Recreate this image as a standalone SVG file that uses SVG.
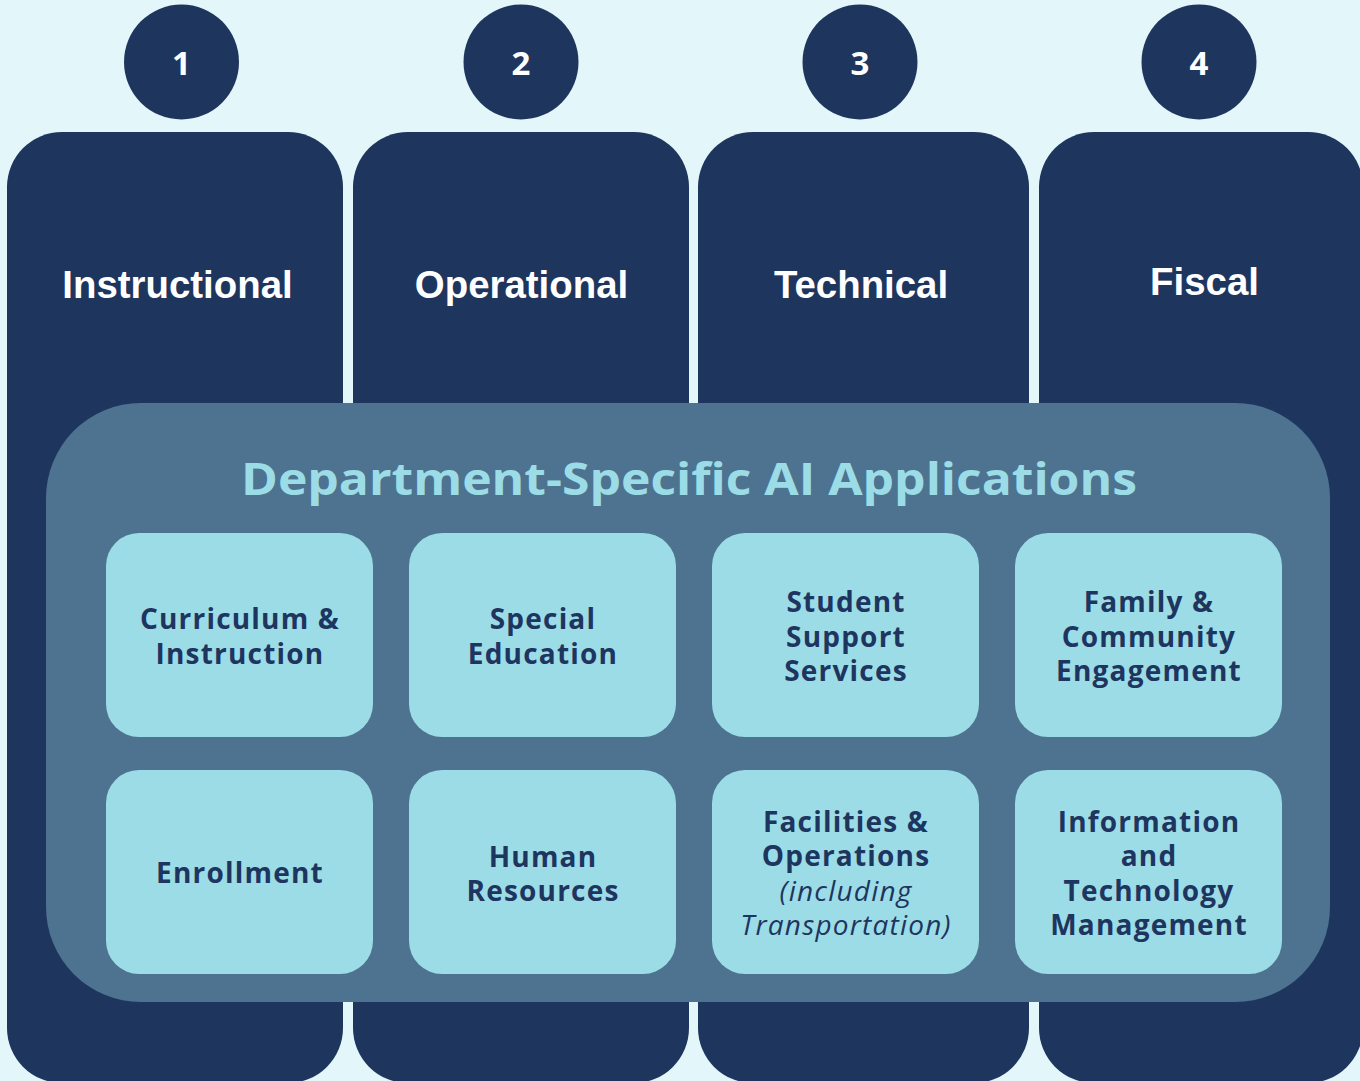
<svg xmlns="http://www.w3.org/2000/svg" width="1360" height="1081" viewBox="0 0 1360 1081">
<style>
.col{fill:#1E365E}
.num{fill:#1E365E}
.numt{font-family:"Open Sans","DejaVu Sans",sans-serif;font-weight:700;font-size:33px;fill:#FFFFFF;text-anchor:middle}
.colt{font-family:"Liberation Sans",Arial,sans-serif;font-weight:700;font-size:38.4px;fill:#FFFFFF;text-anchor:middle}
.panel{fill:#4D7390}
.ptitle{font-family:"Open Sans","DejaVu Sans",sans-serif;font-weight:700;font-size:45px;fill:#9CDCE6;text-anchor:middle}
.card{fill:#9CDCE6}
.ct{font-family:"Open Sans","DejaVu Sans",sans-serif;font-weight:700;font-size:28px;letter-spacing:1.2px;fill:#1E3560;text-anchor:middle}
.it{font-weight:400;font-style:italic}
</style>
<rect width="1360" height="1081" fill="#E3F6FA"/>
<g id="col1"><rect class="col" x="7" y="132" width="336" height="951" rx="55"/><text class="colt" x="177.5" y="298">Instructional</text></g>
<g id="col2"><rect class="col" x="353" y="132" width="336" height="951" rx="55"/><text class="colt" x="521.5" y="298">Operational</text></g>
<g id="col3"><rect class="col" x="698" y="132" width="331" height="951" rx="55"/><text class="colt" x="861" y="298">Technical</text></g>
<g id="col4"><rect class="col" x="1039" y="132" width="324" height="951" rx="55"/><text class="colt" x="1204.5" y="295">Fiscal</text></g>
<g id="n1"><circle class="num" cx="181.5" cy="62" r="57.5"/><text class="numt" x="181.5" y="75">1</text></g>
<g id="n2"><circle class="num" cx="521" cy="62" r="57.5"/><text class="numt" x="521" y="75">2</text></g>
<g id="n3"><circle class="num" cx="860" cy="62" r="57.5"/><text class="numt" x="860" y="75">3</text></g>
<g id="n4"><circle class="num" cx="1199" cy="62" r="57.5"/><text class="numt" x="1199" y="75">4</text></g>
<g id="panel"><rect class="panel" x="46" y="403" width="1284" height="599" rx="95"/><text class="ptitle" x="689" y="495" textLength="896" lengthAdjust="spacingAndGlyphs">Department-Specific AI Applications</text></g>
<g id="c1"><rect class="card" x="106" y="533" width="267" height="204" rx="33"/><text class="ct"><tspan x="240" y="629">Curriculum &amp;</tspan><tspan x="240" y="663.5">Instruction</tspan></text></g>
<g id="c2"><rect class="card" x="409" y="533" width="267" height="204" rx="33"/><text class="ct"><tspan x="543" y="629">Special</tspan><tspan x="543" y="663.5">Education</tspan></text></g>
<g id="c3"><rect class="card" x="712" y="533" width="267" height="204" rx="33"/><text class="ct"><tspan x="846" y="612">Student</tspan><tspan x="846" y="646.5">Support</tspan><tspan x="846" y="681">Services</tspan></text></g>
<g id="c4"><rect class="card" x="1015" y="533" width="267" height="204" rx="33"/><text class="ct"><tspan x="1149" y="612">Family &amp;</tspan><tspan x="1149" y="646.5">Community</tspan><tspan x="1149" y="681">Engagement</tspan></text></g>
<g id="c5"><rect class="card" x="106" y="770" width="267" height="204" rx="33"/><text class="ct" x="240" y="882.5">Enrollment</text></g>
<g id="c6"><rect class="card" x="409" y="770" width="267" height="204" rx="33"/><text class="ct"><tspan x="543" y="866.5">Human</tspan><tspan x="543" y="901">Resources</tspan></text></g>
<g id="c7"><rect class="card" x="712" y="770" width="267" height="204" rx="33"/><text class="ct"><tspan x="846" y="831.5">Facilities &amp;</tspan><tspan x="846" y="866">Operations</tspan><tspan class="it" x="846" y="900.5">(including</tspan><tspan class="it" x="846" y="935">Transportation)</tspan></text></g>
<g id="c8"><rect class="card" x="1015" y="770" width="267" height="204" rx="33"/><text class="ct"><tspan x="1149" y="831.5">Information</tspan><tspan x="1149" y="866">and</tspan><tspan x="1149" y="900.5">Technology</tspan><tspan x="1149" y="935">Management</tspan></text></g>
<g id="connectors"></g>
</svg>
